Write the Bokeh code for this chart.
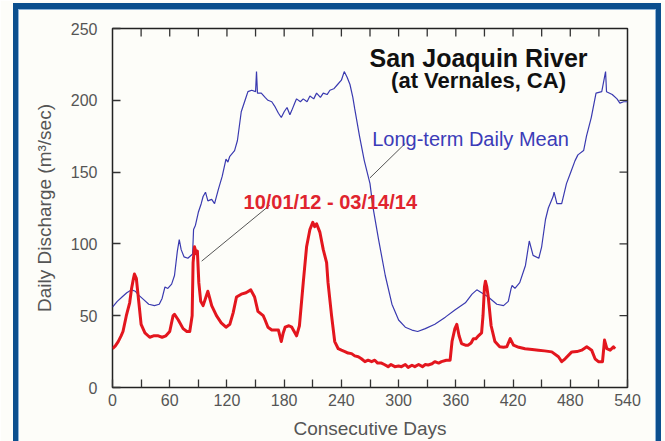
from bokeh.plotting import figure
from bokeh.models import (LinearAxis, FixedTicker, Range1d, ColumnDataSource, Label,
                          InlineStyleSheet)
from bokeh.embed import file_html
from bokeh.resources import INLINE

# ---------------- data ----------------
blue_days = [0, 5, 10, 15, 20, 24, 28, 33, 38, 44, 49, 52, 55, 58, 62, 65, 68, 70, 72, 75,
             79, 84, 85, 87, 90, 93, 95, 97.5, 100, 104, 107, 111, 115, 119, 121, 123, 128,
             131, 135, 139, 142, 146, 150, 151, 152, 156, 160, 163, 167, 170, 174, 177, 180,
             183, 186, 188, 191, 193, 197, 200, 204, 207, 211, 214, 218, 221, 225, 228, 232,
             236, 240, 243, 246, 249, 252, 254, 259, 264, 270, 273, 279, 286, 293, 300, 307,
             314, 320, 328, 338, 349, 359, 370, 377, 382, 387, 394, 403, 410, 415, 418, 419,
             422, 427, 433, 437, 441, 447, 450, 454, 457, 462, 463, 466, 471, 476, 480, 485,
             488, 494, 497, 502, 507, 513, 517, 518, 524, 529, 532, 536, 540]
blue_vals = [56, 60, 63, 66, 68, 67, 64, 61, 58, 57, 58, 62, 70, 69, 72, 78, 95, 103, 96, 91,
             90, 93, 110, 113, 122, 128, 133, 136, 130, 131, 128, 138, 147, 159, 157, 161, 165,
             172, 192, 200, 206, 207, 206, 220, 205, 205, 202, 200, 199, 196, 191, 188, 192,
             195, 190, 193, 198, 201, 199, 201, 199, 203, 201, 205, 202, 205, 204, 207, 208,
             211, 214, 220, 216, 211, 202, 194, 175, 158, 142, 126, 103, 78, 58, 47, 42,
             40, 39, 41, 44, 49, 54, 59, 65, 68, 66, 63, 58, 57, 60, 69, 71,
             69, 73, 85, 102, 92, 90, 98, 117, 125, 133, 136, 128, 128, 142, 149, 158,
             162, 165, 175, 188, 205, 206, 220, 206, 204, 201, 198, 199, 199]

red_days = [0, 3, 6, 9, 11, 14.5, 18, 20, 22, 23, 25, 27.5, 30, 34, 39, 43, 48, 52, 56, 60,
            63.5, 65, 69, 74, 78, 81, 83.5, 84.5, 86, 88, 89, 90.5, 92.5, 95, 98.5, 100, 102,
            104, 109, 114, 119, 123, 126.5, 130, 135, 140, 145, 149, 152.5, 158, 160, 163,
            167, 170, 174, 177, 179, 181, 185, 188, 193, 196, 200, 203.5, 207, 210, 212, 214,
            217.5, 221, 224.5, 226, 229.7, 233, 236.7, 240, 243.7, 247, 250.7, 254, 257.7,
            261, 264.7, 268, 271.7, 275, 278, 282, 285, 289, 292, 296, 300, 303, 307, 310,
            314, 317, 321, 325, 328, 331, 335, 338, 342, 345, 350, 354, 356, 359, 361, 363.4,
            366, 370, 373, 376, 378.4, 381, 383.7, 387, 388.5, 390, 391, 392.5, 394, 397, 401,
            406, 410, 413.4, 417, 420.4, 426, 432.6, 440, 446.6, 453, 460.6, 467.6, 471,
            474.6, 481.6, 487, 492, 497.3, 502.4, 506, 509.5, 513.8, 515.9, 518.4, 521.8,
            525.3, 527]
red_vals = [27, 29, 32, 36, 39, 50, 59, 69, 76, 79, 76, 60, 44, 38, 35, 36, 36, 35, 36, 39,
            50, 51, 47, 41, 39, 39, 50, 87, 98, 93, 95, 73, 60, 57, 64, 67, 62,
            57, 50, 45, 42, 44, 52, 63, 65, 66, 68, 63, 53, 50, 47, 42,
            40, 40, 40, 32, 38, 42, 43, 42, 36, 43, 73, 98, 110, 115, 112, 114,
            108, 96, 87, 73, 50, 32, 27, 26, 25, 24, 23.6, 22, 21.4,
            20, 18, 19, 18, 19, 17, 17, 16, 14.5, 16, 14.5, 15, 14.5, 16, 14,
            15.5, 14.5, 16, 14.5, 16, 15.7, 16.5, 18, 17, 18, 19, 19, 32, 41, 44, 36,
            30.6, 29.5, 29.5, 31, 34, 34, 36, 38, 50, 70, 74, 70, 63, 43, 32,
            28.3, 28, 28.3, 34, 29.5, 28, 27, 26.5, 26, 25.5, 24.8, 21.4, 18,
            20, 24.8, 25, 26, 28.3, 26, 20, 18, 18, 33, 27, 26,
            28.3, 27]

x_major = [0, 60, 120, 180, 240, 300, 360, 420, 480, 540]
x_minor = [30, 90, 150, 210, 270, 330, 390, 450, 510]
y_major = [0, 50, 100, 150, 200, 250]

title_1 = "San Joaquin River"
title_2 = "(at Vernales, CA)"
blue_label = "Long-term Daily Mean"
red_label = "10/01/12 - 03/14/14"
x_title = "Consecutive Days"
y_title = "Daily Discharge (m\u00b3/sec)"

# ---------------- layout ----------------
W, H = 665, 441
ML, MR, MT, MB = 112, 38, 28, 53
FW, FH = W - ML - MR, H - MT - MB
X0, X1, Y0, Y1 = 0, 540, 0, 250
TICK = 8  # px

BG = "#fdfdf9"
GRAY = "#555555"
FONT = "Liberation Sans"

p = figure(width=W, height=H, output_backend="svg", toolbar_location=None,
           x_range=Range1d(X0, X1), y_range=Range1d(Y0, Y1),
           x_axis_location=None, y_axis_location=None,
           min_border_left=ML, min_border_right=MR, min_border_top=MT, min_border_bottom=MB)
p.background_fill_color = BG
p.border_fill_color = BG
p.outline_line_color = "#222222"
p.outline_line_width = 1.5
p.grid.visible = False

xt = FixedTicker(ticks=x_major, minor_ticks=x_minor)
yt = FixedTicker(ticks=y_major, minor_ticks=[])

def style_axis(ax):
    ax.axis_line_color = None
    ax.major_tick_in = TICK
    ax.major_tick_out = 0
    ax.minor_tick_in = TICK
    ax.minor_tick_out = 0
    ax.major_tick_line_color = "#333333"
    ax.minor_tick_line_color = "#333333"
    ax.major_tick_line_width = 1.3
    ax.minor_tick_line_width = 1.3
    ax.major_label_text_font = FONT
    ax.major_label_text_color = GRAY
    ax.major_label_text_font_size = "16px"
    ax.axis_label_text_font = FONT
    ax.axis_label_text_color = GRAY
    ax.axis_label_text_font_style = "normal"
    ax.axis_label_text_font_size = "19px"

xb = LinearAxis(ticker=xt, axis_label=x_title)
style_axis(xb)
xb.major_label_standoff = 6
xb.axis_label_standoff = 9
p.add_layout(xb, "below")

yl = LinearAxis(ticker=yt, axis_label=y_title)
style_axis(yl)
yl.major_label_standoff = 15
yl.axis_label_standoff = 13
p.add_layout(yl, "left")

# mirrored inside ticks on the top and right sides of the frame
top_ticks = x_major[1:-1] + x_minor
dy_tick = TICK * (Y1 - Y0) / FH
dx_tick = TICK * (X1 - X0) / FW
p.segment(x0=top_ticks, y0=[Y1] * len(top_ticks), x1=top_ticks,
          y1=[Y1 - dy_tick] * len(top_ticks), line_color="#333333", line_width=1.3)
right_ticks = y_major[1:-1]
p.segment(x0=[X1] * len(right_ticks), y0=right_ticks, x1=[X1 - dx_tick] * len(right_ticks),
          y1=right_ticks, line_color="#333333", line_width=1.3)

# ---------------- curves ----------------
src_b = ColumnDataSource(dict(x=blue_days, y=blue_vals))
src_r = ColumnDataSource(dict(x=red_days, y=red_vals))
p.line("x", "y", source=src_b, line_color="#3a3ab0", line_width=1.2)
p.line("x", "y", source=src_r, line_color="#e3161e", line_width=3, line_join="round")

# leader lines
p.segment(x0=[93.5, 270.0], y0=[88.0, 146.0], x1=[165.0, 307.0], y1=[127.0, 170.0],
          line_color="#555555", line_width=1)

# ---------------- texts ----------------
p.add_layout(Label(x=383.8, y=229.7, text=title_1, text_align="center",
                   text_baseline="alphabetic", text_font=FONT, text_font_style="bold",
                   text_font_size="25px", text_color="#111111"))
p.add_layout(Label(x=383.8, y=214.0, text=title_2, text_align="center",
                   text_baseline="alphabetic", text_font=FONT, text_font_style="bold",
                   text_font_size="22px", text_color="#111111"))
p.add_layout(Label(x=272.3, y=173.1, text=blue_label, text_align="left",
                   text_baseline="alphabetic", text_font=FONT,
                   text_font_size="20px", text_color="#3b3bb8"))
p.add_layout(Label(x=137.4, y=129.0, text=red_label, text_align="left",
                   text_baseline="alphabetic", text_font=FONT, text_font_style="bold",
                   text_font_size="20px", text_color="#e0242e"))

# ---------------- picture frame (page decoration) ----------------
p.stylesheets.append(InlineStyleSheet(css="""
:host { position: relative; }
:host::after {
  content: "";
  position: absolute;
  left: 13px; top: 3px;
  width: 638px; height: 432px;
  border-left: 5px solid #0b4f8e;
  border-right: 5px solid #0b4f8e;
  border-top: 6px solid #0b4f8e;
  border-bottom: 0;
  box-shadow: inset 1px 1px 0 0 #8db3d8, inset -1px 0 0 0 #8db3d8;
  pointer-events: none;
  z-index: 10;
}
"""))

open("out.html", "w").write(file_html(p, INLINE))
